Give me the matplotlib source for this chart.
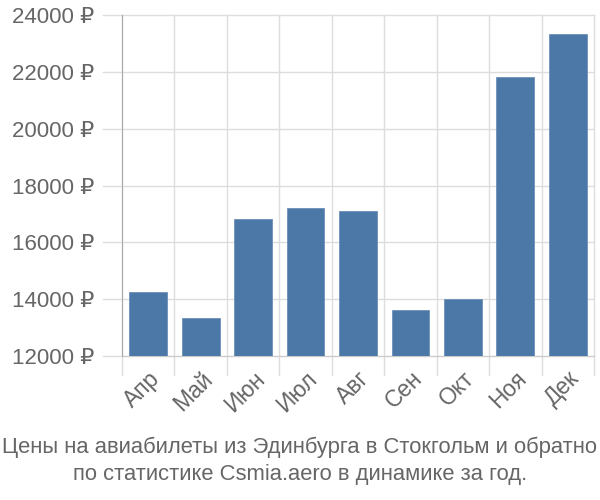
import numpy as np
import matplotlib.pyplot as plt

plt.rcParams['font.family'] = ['Liberation Sans', 'DejaVu Sans']

months = ['Апр', 'Май', 'Июн', 'Июл', 'Авг', 'Сен', 'Окт', 'Ноя', 'Дек']
prices = [14250, 13340, 16820, 17210, 17100, 13620, 14010, 21820, 23330]
y_ticks = [12000, 14000, 16000, 18000, 20000, 22000, 24000]
caption = ('Цены на авиабилеты из Эдинбурга в Стокгольм и обратно\n'
           'по статистике Csmia.aero в динамике за год.')

text_color = '#666666'
grid_color = '#dddddd'

fig = plt.figure(figsize=(6, 5), dpi=100)
ax = fig.add_axes([0.2033, 0.288, 0.7867, 0.682])

x = np.arange(len(months))
ax.bar(x, prices, width=0.72, bottom=0, color='#4c78a8',
       edgecolor='#6d90b8', linewidth=0.6, zorder=3)

ax.set_xlim(-0.5, len(months) - 0.5)
ax.set_ylim(12000, 24000)

# vertical grid at category boundaries, horizontal at ticks
for b in np.arange(-0.5, len(months), 1.0):
    ax.plot([b, b], [0, 1], transform=ax.get_xaxis_transform(),
            color=grid_color, lw=1, zorder=1, clip_on=False)
    ax.plot([b, b], [0, -0.055], transform=ax.get_xaxis_transform(),
            color=grid_color, lw=1, zorder=1, clip_on=False)
for t in y_ticks:
    ax.plot([-0.04, 1], [t, t], transform=ax.get_yaxis_transform(),
            color=grid_color, lw=1, zorder=1, clip_on=False)

ax.set_yticks(y_ticks)
ax.set_yticklabels([f'{t} ₽' for t in y_ticks])
ax.set_xticks(x)
ax.set_xticklabels(months, rotation=45, ha='right', va='top',
                   rotation_mode='anchor')
ax.tick_params(axis='y', length=0, pad=20, labelsize=16, labelcolor=text_color)
ax.tick_params(axis='x', length=0, pad=8, labelsize=16.5, labelcolor=text_color)

for side in ['top', 'right']:
    ax.spines[side].set_visible(False)
ax.spines['left'].set_color('#aaaaaa')
ax.spines['bottom'].set_color('#cccccc')
ax.spines['left'].set_zorder(4)

fig.text(0.5, 0.03, caption, ha='center', va='bottom', fontsize=15.8,
         color=text_color, linespacing=1.4)

fig.savefig('out.png', dpi=100)
